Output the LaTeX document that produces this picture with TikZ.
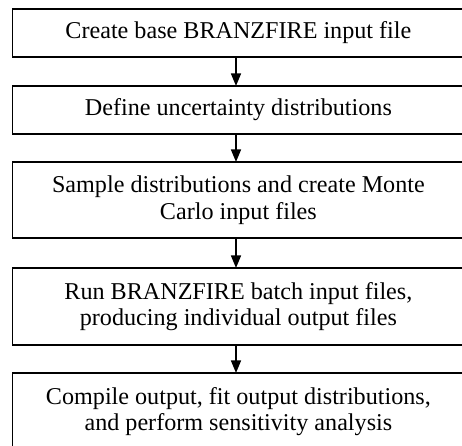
\documentclass[tikz,border=0pt]{standalone}
\usepackage{fontspec}
\setmainfont{Liberation Serif}
\usetikzlibrary{arrows.meta}
\begin{document}
\begin{tikzpicture}[x=0.75pt,y=-0.75pt,
  stepbox/.style={draw, line width=1.1pt, rectangle, inner sep=0pt, outer sep=0pt,
    minimum width=338.5pt, align=center,
    font=\fontsize{18.1pt}{19.8pt}\selectfont},
  flow/.style={line width=1.3pt, -{Triangle[width=7.5pt,length=9.5pt]}}]
\useasboundingbox (0,0) rectangle (462,446);
\clip (0,0) rectangle (462,446);
\node[stepbox, minimum height=36pt] (b1) at (238.4,33) {Create base BRANZFIRE input file};
\node[stepbox, minimum height=36pt] (b2) at (238.4,110) {Define uncertainty distributions};
\node[stepbox, minimum height=57pt] (b3) at (238.4,200) {Sample distributions and create Monte\\Carlo input files};
\node[stepbox, minimum height=57.75pt] (b4) at (238.4,306.5) {Run BRANZFIRE batch input files,\\producing individual output files};
\node[stepbox, minimum height=57.75pt] (b5) at (238.4,411.5) {Compile output, fit output distributions,\\and perform sensitivity analysis};
\draw[flow] (b1.south -| 236,0) -- (b2.north -| 236,0);
\draw[flow] (b2.south -| 236,0) -- (b3.north -| 236,0);
\draw[flow] (b3.south -| 236,0) -- (b4.north -| 236,0);
\draw[flow] (b4.south -| 236,0) -- (b5.north -| 236,0);
\end{tikzpicture}
\end{document}
